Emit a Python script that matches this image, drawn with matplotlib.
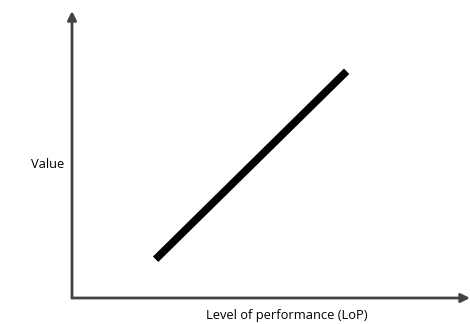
import matplotlib.pyplot as plt

# === DATA ===
lop = [2.1, 6.9]
value = [1.35, 7.9]
x_label = "Level of performance (LoP)"
y_label = "Value"

plt.rcParams['font.family'] = ['Open Sans', 'DejaVu Sans']

fig = plt.figure(figsize=(4.7, 3.24), dpi=100)
# axes box in pixels: left 72, bottom 298 (from top), right 470, top 11
ax = fig.add_axes([72 / 470, (324 - 298) / 324, (470 - 72) / 470, (298 - 11) / 324])
ax.set_xlim(0, 10)
ax.set_ylim(0, 10)
for s in ax.spines.values():
    s.set_visible(False)
ax.set_xticks([])
ax.set_yticks([])
ax.patch.set_alpha(0)

axis_col = '#444444'
arrow = dict(arrowstyle='-|>', color=axis_col, lw=2, mutation_scale=13,
             shrinkA=0, shrinkB=0)
ax.annotate('', xy=(1, 0), xytext=(0, 0), xycoords='axes fraction', arrowprops=arrow)
ax.annotate('', xy=(0, 1), xytext=(0, 0), xycoords='axes fraction', arrowprops=arrow)

ax.plot(lop, value, color='black', lw=5.5, solid_capstyle='butt')

fig.text(287 / 470, 1 - 315 / 324, x_label, ha='center', va='center', fontsize=9.3)
fig.text(48 / 470, 1 - 165 / 324, y_label, ha='center', va='center', fontsize=9.3)

fig.savefig('out.png', dpi=100)
